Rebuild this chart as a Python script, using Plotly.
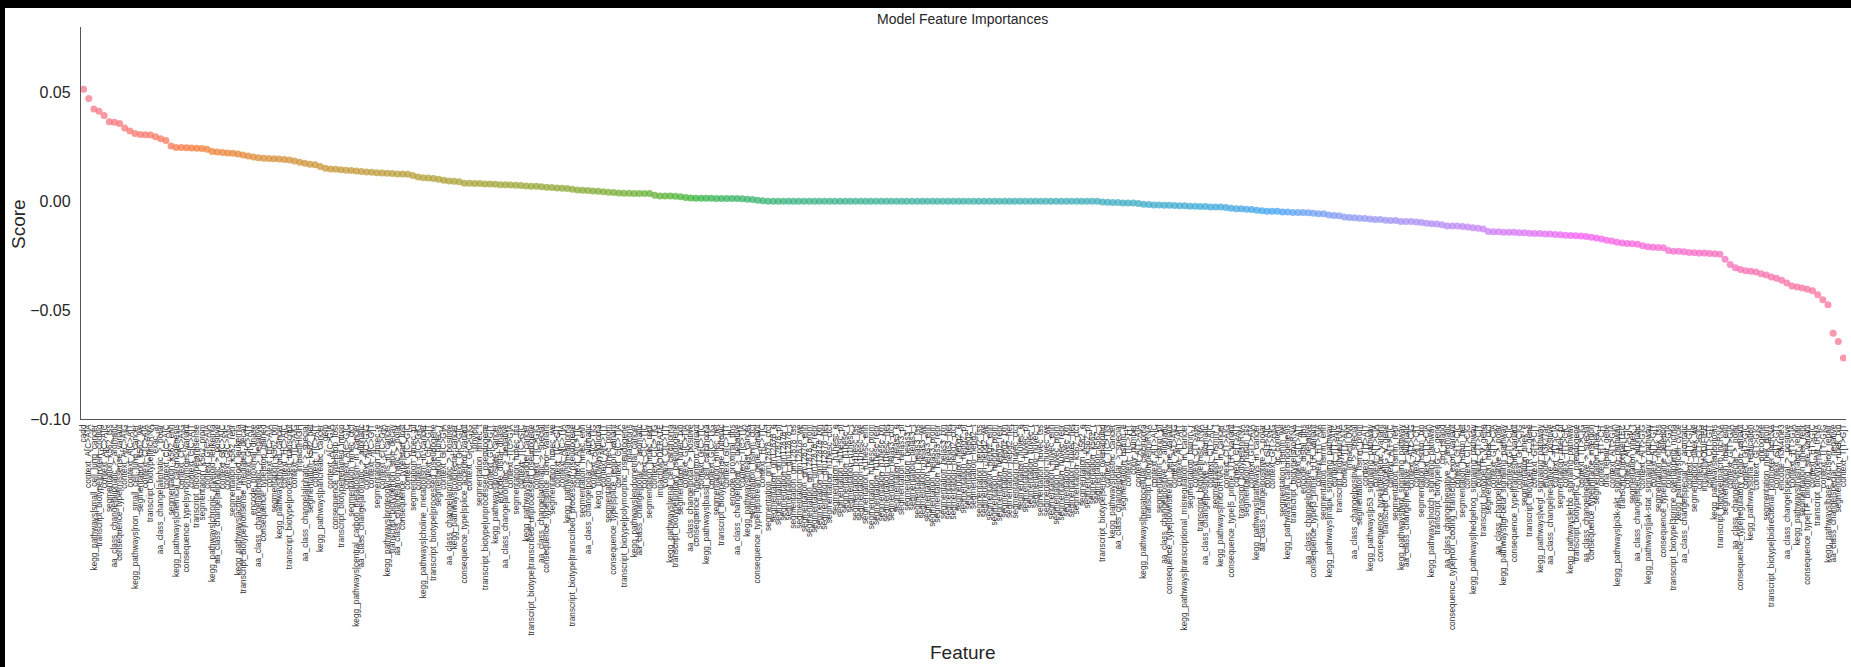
import math
import plotly.graph_objects as go

# ---------------- data ----------------
SCORES_A = [
    0.0514, 0.0472, 0.0424, 0.0413, 0.0394, 0.0365, 0.0363, 0.0357, 0.0336, 0.0322,
    0.0311, 0.0306, 0.0305, 0.0304, 0.0296, 0.0287, 0.0279, 0.0253, 0.0247, 0.0247,
    0.0246, 0.0244, 0.0243, 0.0242, 0.0239, 0.0228, 0.0226, 0.0224, 0.0221, 0.0220,
    0.0217, 0.0212, 0.0208, 0.0203, 0.0200, 0.0197, 0.0196, 0.0195, 0.0194, 0.0192,
    0.0189, 0.0185, 0.0179, 0.0174, 0.0170, 0.0168, 0.0160, 0.0151, 0.0148, 0.0147,
    0.0145, 0.0142, 0.0141, 0.0139, 0.0137, 0.0134, 0.0133,
]
SCORES_B = [
    0.0131, 0.0130, 0.0128, 0.0127, 0.0125, 0.0125, 0.0124, 0.0118, 0.0111, 0.0108,
    0.0107, 0.0104, 0.0101, 0.0096, 0.0093, 0.0092, 0.0089, 0.0082, 0.0082, 0.0081,
    0.0081, 0.0079, 0.0079, 0.0078, 0.0076, 0.0076, 0.0075, 0.0073, 0.0072, 0.0070,
    0.0069, 0.0069, 0.0067, 0.0064, 0.0063, 0.0061, 0.0060, 0.0058, 0.0055, 0.0052,
    0.0050, 0.0049, 0.0047, 0.0046, 0.0043, 0.0041, 0.0040, 0.0038, 0.0037, 0.0037,
    0.0035, 0.0035, 0.0035, 0.0035, 0.0027, 0.0024, 0.0024, 0.0024,
]
SCORES_C = [
    0.0023, 0.0020, 0.0017, 0.0015, 0.0014, 0.0014, 0.0014, 0.0014, 0.0013, 0.0013,
    0.0013, 0.0013, 0.0012, 0.0011, 0.0009, 0.0008, 0.0005, 0.0002,
]
SCORES_ZERO = [
    0.0, 0.0, 0.0, 0.0, 0.0, 0.0, 0.0, 0.0, 0.0, 0.0,
    0.0, 0.0, 0.0, 0.0, 0.0, 0.0, 0.0, 0.0, 0.0, 0.0,
    0.0, 0.0, 0.0, 0.0, 0.0, 0.0, 0.0, 0.0, 0.0, 0.0,
    0.0, 0.0, 0.0, 0.0, 0.0, 0.0, 0.0, 0.0, 0.0, 0.0,
    0.0, 0.0, 0.0, 0.0, 0.0, 0.0, 0.0, 0.0, 0.0, 0.0,
    0.0, 0.0, 0.0, 0.0, 0.0, 0.0, 0.0, 0.0, 0.0, 0.0,
    0.0, 0.0, 0.0, 0.0, 0.0,
]
SCORES_D = [
    -0.0003, -0.0005, -0.0006, -0.0006, -0.0008, -0.0008, -0.0008, -0.0011, -0.0014, -0.0015,
    -0.0017, -0.0017, -0.0018, -0.0018, -0.0020, -0.0021, -0.0021, -0.0023, -0.0023, -0.0024,
    -0.0024, -0.0026, -0.0026, -0.0027, -0.0029, -0.0032, -0.0034, -0.0035, -0.0037, -0.0038,
    -0.0041, -0.0044,
]
SCORES_E = [
    -0.0046, -0.0046, -0.0046, -0.0049, -0.0050, -0.0052, -0.0052, -0.0052, -0.0053, -0.0055,
    -0.0058, -0.0058, -0.0063, -0.0066, -0.0067, -0.0072, -0.0075, -0.0076, -0.0078, -0.0079,
    -0.0082, -0.0084, -0.0084, -0.0087, -0.0089, -0.0089, -0.0093, -0.0093, -0.0093, -0.0095,
    -0.0098, -0.0101, -0.0104, -0.0105, -0.0108, -0.0114, -0.0114, -0.0114, -0.0116, -0.0118,
    -0.0122, -0.0124, -0.0127, -0.0139, -0.0140, -0.0140, -0.0142, -0.0143, -0.0143, -0.0145,
    -0.0145, -0.0147, -0.0148, -0.0148, -0.0151, -0.0151, -0.0153, -0.0154,
]
SCORES_F = [
    -0.0156, -0.0157, -0.0159, -0.0160, -0.0162, -0.0166, -0.0169, -0.0174, -0.0179, -0.0183,
    -0.0188, -0.0192, -0.0194, -0.0195, -0.0198, -0.0205, -0.0209, -0.0211, -0.0212, -0.0214,
    -0.0226, -0.0230, -0.0230, -0.0232, -0.0235, -0.0237, -0.0238, -0.0238, -0.0240, -0.0241,
    -0.0244, -0.0267, -0.0290, -0.0305, -0.0314, -0.0319, -0.0322, -0.0325, -0.0333, -0.0339,
    -0.0348, -0.0354, -0.0363, -0.0375, -0.0389, -0.0394, -0.0398, -0.0404, -0.0411, -0.0429,
    -0.0452, -0.0475, -0.0606, -0.0644, -0.0720,
]
SCORES = SCORES_A + SCORES_B + SCORES_C + SCORES_ZERO + SCORES_D + SCORES_E + SCORES_F
N = len(SCORES)

# feature name pools (tick labels, mostly illegible in the reference)
SCALARS = ["cadd", "exac_af", "gerp", "phylop", "phastcons", "copy_number",
           "gc_content", "cpg_island", "dna_repair_gene", "oncogene"]
IMPACT = ["impact|HIGH", "impact|MODERATE", "impact|LOW", "impact|MODIFIER"]
ENCODE = ["encode_proximal_dnase", "encode_distal_dnase", "encode_proximal_tfbs",
          "encode_distal_tfbs", "encode_h3k27ac", "encode_h3k4me3"]
BIOTYPES = ["protein_coding", "lincRNA", "antisense", "nonsense_mediated_decay",
            "processed_transcript", "retained_intron", "non_stop_decay",
            "processed_pseudogene", "unprocessed_pseudogene",
            "transcribed_unprocessed_pseudogene", "transcribed_processed_pseudogene",
            "polymorphic_pseudogene", "unitary_pseudogene", "sense_intronic",
            "sense_overlapping", "miRNA", "misc_RNA", "snRNA", "snoRNA", "rRNA",
            "IG_V_gene", "IG_C_gene", "TR_V_gene", "TR_C_gene", "IG_V_pseudogene",
            "TEC", "3prime_overlapping_ncrna", "macro_lncRNA",
            "bidirectional_promoter_lncRNA", "Mt_tRNA"]
KEGG = ["small_cell_lung_cancer", "non_small_cell_lung_cancer", "chemical_carcinogenesis",
        "chronic_myeloid_leukemia", "acute_myeloid_leukemia", "thyroid_cancer",
        "pancreatic_cancer", "central_carbon_metabolism_in_cancer",
        "proteoglycans_in_cancer", "choline_metabolism_in_cancer", "colorectal_cancer",
        "prostate_cancer", "bladder_cancer", "melanoma", "glioma", "endometrial_cancer",
        "renal_cell_carcinoma", "basal_cell_carcinoma", "breast_cancer", "gastric_cancer",
        "hepatocellular_carcinoma", "transcriptional_misregulation_in_cancer",
        "microRNAs_in_cancer", "pathways_in_cancer", "viral_carcinogenesis",
        "mapk_signaling_pathway", "p53_signaling_pathway", "wnt_signaling_pathway",
        "notch_signaling_pathway", "hedgehog_signaling_pathway",
        "tgf-beta_signaling_pathway", "vegf_signaling_pathway", "erbb_signaling_pathway",
        "pi3k-akt_signaling_pathway", "jak-stat_signaling_pathway", "cell_cycle",
        "apoptosis", "dna_replication", "mismatch_repair", "base_excision_repair"]
AA_CLASSES = ["aliphatic", "aromatic", "polar", "positive", "negative", "special"]
CONSEQUENCES = ["missense_variant", "synonymous_variant", "stop_gained", "stop_lost",
                "start_lost", "splice_acceptor_variant", "splice_donor_variant",
                "splice_region_variant", "intron_variant", "upstream_gene_variant",
                "downstream_gene_variant", "5_prime_UTR_variant", "3_prime_UTR_variant",
                "intergenic_variant", "non_coding_transcript_exon_variant",
                "frameshift_variant", "inframe_insertion", "inframe_deletion",
                "regulatory_region_variant", "TF_binding_site_variant"]
BASES = ["A", "C", "G", "T"]
SUBSTITUTIONS = ["C>A", "C>G", "C>T", "T>A", "T>C", "T>G"]
SEG_CELLS = ["gm12878", "h1hesc", "helas3", "hepg2", "huvec", "k562", "hmec", "hsmm", "nhek"]
SEG_STATES = ["ctcf", "e", "pf", "r", "t", "tss", "we", "enh", "prom", "repr", "txn", "het"]

TITLE = "Model Feature Importances"
X_TITLE = "Feature"
Y_TITLE = "Score"
Y_TICKS = [-0.10, -0.05, 0.00, 0.05]
Y_TICKTEXT = ["\u22120.10", "\u22120.05", "0.00", "0.05"]

# ---------------- build labels ----------------
context = ["context_%s[%s]%s" % (a, s, b) for s in SUBSTITUTIONS for a in BASES for b in BASES]
segmentation = ["segmentation_%s_%s" % (c, st) for c in SEG_CELLS for st in SEG_STATES][:107]
pools = [
    SCALARS[1:],
    IMPACT,
    ENCODE,
    ["transcript_biotype|" + b for b in BIOTYPES],
    ["kegg_pathways|" + k for k in KEGG],
    ["aa_class_change|%s_>_%s" % (a, b) for a in AA_CLASSES for b in AA_CLASSES if a != b],
    ["consequence_type|" + c for c in CONSEQUENCES],
    context,
    segmentation[65:],
]
keyed = []
for pi, pool in enumerate(pools):
    n = len(pool)
    for k, name in enumerate(pool):
        keyed.append(((k + 0.37 * (pi % 3) / 3 + 0.5) / n, pi, name))
keyed.sort()
others = [SCALARS[0]] + [t[2] for t in keyed]
zero_start = len(SCORES_A) + len(SCORES_B) + len(SCORES_C)
zero_names = segmentation[:65]
FEATURES = others[:zero_start] + zero_names + others[zero_start:]
assert len(FEATURES) == N and len(set(FEATURES)) == N


# ---------------- seaborn husl palette ----------------
_M = [[3.2406, -1.5372, -0.4986], [-0.9689, 1.8758, 0.0415], [0.0557, -0.2040, 1.0570]]
_REF_U, _REF_V, _KAPPA, _EPS = 0.19784, 0.46834, 903.2963, 0.0088564


def _max_chroma(L, H):
    hrad = math.radians(H)
    sinH, cosH = math.sin(hrad), math.cos(hrad)
    sub1 = (L + 16) ** 3 / 1560896.0
    sub2 = sub1 if sub1 > _EPS else L / _KAPPA
    result = float("inf")
    for m1, m2, m3 in _M:
        top = (0.99915 * m1 + 1.05122 * m2 + 1.14460 * m3) * sub2
        rbottom = 0.86330 * m3 - 0.17266 * m2
        lbottom = 0.12949 * m3 - 0.38848 * m1
        bottom = (rbottom * sinH + lbottom * cosH) * sub2
        for t in (0.0, 1.0):
            C = L * (top - 1.05122 * t) / (bottom + 0.17266 * sinH * t)
            if 0 < C < result:
                result = C
    return result


def _from_linear(c):
    return 12.92 * c if c <= 0.0031308 else 1.055 * c ** (1 / 2.4) - 0.055


def husl_to_rgb(h, s, l):
    C = _max_chroma(l, h) / 100.0 * s
    hrad = math.radians(h)
    U, V = math.cos(hrad) * C, math.sin(hrad) * C
    varY = ((l + 16) / 116.0) ** 3 if l > 8 else l / _KAPPA
    varU = U / (13 * l) + _REF_U
    varV = V / (13 * l) + _REF_V
    Y = varY
    X = -(9 * Y * varU) / ((varU - 4) * varV - varU * varV)
    Z = (9 * Y - 15 * varV * Y - varV * X) / (3 * varV)
    rgb = [_from_linear(r[0] * X + r[1] * Y + r[2] * Z) for r in _M]
    return tuple(min(max(v, 0.0), 1.0) for v in rgb)


def husl_palette(n, h=0.01, s=0.9, l=0.65):
    out = []
    for i in range(n):
        hue = ((i / n + h) % 1) * 359
        r, g, b = husl_to_rgb(hue, s * 99, l * 99)
        out.append("rgb(%d,%d,%d)" % (round(r * 255), round(g * 255), round(b * 255)))
    return out


COLORS = husl_palette(N)

# ---------------- figure ----------------
W, H = 1851, 667
L_M, R_M, T_M, B_M = 81, 5, 27, 248
plot_h = H - T_M - B_M
plot_w = W - L_M - R_M
FONT = "Liberation Sans, Arial, sans-serif"
TXT = "#262626"

fig = go.Figure(go.Scatter(
    x=FEATURES, y=SCORES, mode="markers",
    marker=dict(color=COLORS, size=7, opacity=0.72, line=dict(width=0)),
    hoverinfo="x+y",
))


def py(pix):  # pixel row -> paper y
    return (H - B_M - pix) / plot_h


def px(pix):  # pixel column -> paper x
    return (pix - L_M) / plot_w


fig.update_layout(
    width=W, height=H,
    margin=dict(l=L_M, r=R_M, t=T_M, b=B_M, pad=0),
    paper_bgcolor="white", plot_bgcolor="white",
    showlegend=False,
    font=dict(family=FONT, color=TXT),
    xaxis=dict(
        type="category", range=[-0.5, N - 0.5],
        tickmode="array", tickvals=FEATURES, ticktext=FEATURES,
        tickangle=-90, tickfont=dict(size=8.3, color="#333333", family=FONT),
        ticks="", showgrid=False, zeroline=False,
        showline=True, linecolor="#555555", linewidth=1.3,
        automargin=False, ticklabelstandoff=1,
    ),
    yaxis=dict(
        range=[-0.10, 0.08],
        tickmode="array", tickvals=Y_TICKS, ticktext=Y_TICKTEXT,
        tickfont=dict(size=16, color=TXT, family=FONT),
        ticks="", showgrid=False, zeroline=False,
        showline=True, linecolor="#555555", linewidth=1.3,
        automargin=False, ticklabelstandoff=6,
    ),
    annotations=[
        dict(text=TITLE, x=px(962), y=py(19), xref="paper", yref="paper",
             xanchor="center", yanchor="middle", showarrow=False,
             font=dict(size=14, color=TXT, family=FONT)),
        dict(text=Y_TITLE, x=px(18), y=py(224), xref="paper", yref="paper",
             xanchor="center", yanchor="middle", showarrow=False, textangle=-90,
             font=dict(size=19, color=TXT, family=FONT)),
        dict(text=X_TITLE, x=px(962), y=py(652), xref="paper", yref="paper",
             xanchor="center", yanchor="middle", showarrow=False,
             font=dict(size=19, color=TXT, family=FONT)),
    ],
    shapes=[
        dict(type="rect", xref="paper", yref="paper", x0=px(0), x1=px(W), y0=py(8), y1=py(0),
             fillcolor="black", line=dict(width=0), layer="above"),
        dict(type="rect", xref="paper", yref="paper", x0=px(0), x1=px(5), y0=py(H), y1=py(0),
             fillcolor="black", line=dict(width=0), layer="above"),
    ],
)

fig.write_html("out.html")
